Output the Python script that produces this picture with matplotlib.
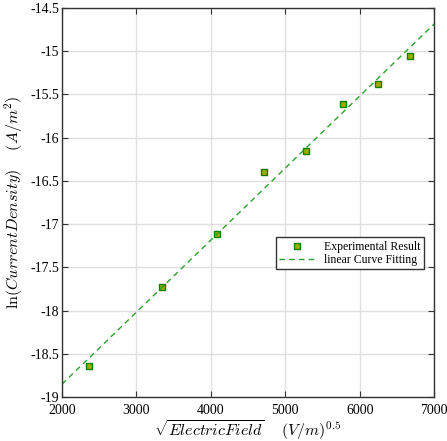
import numpy as np
import matplotlib.pyplot as plt

plt.rcParams['font.family'] = ['Liberation Serif', 'DejaVu Serif']
plt.rcParams['mathtext.fontset'] = 'cm'

# sqrt(E) in (V/m)^0.5 and ln(J) in ln(A/m^2)
sqrt_field = [2359, 3344, 4083, 4715, 5280, 5777, 6251, 6673]
ln_current = [-18.64, -17.73, -17.12, -16.40, -16.155, -15.61, -15.38, -15.05]

slope, intercept = np.polyfit(sqrt_field, ln_current, 1)
x_fit = np.array([2000, 7000])
y_fit = slope * x_fit + intercept

fig = plt.figure(figsize=(4.47, 4.41), dpi=100)
ax = fig.add_axes([0.1387, 0.0998, 0.8323, 0.8821])

ax.plot(sqrt_field, ln_current, 's', markersize=4, markerfacecolor='#a8a800',
        markeredgecolor='#008000', markeredgewidth=1, label='Experimental Result')
ax.plot(x_fit, y_fit, '--', color='#2ca02c', linewidth=1, dashes=(4, 3),
        label='linear Curve Fitting')

ax.set_xlim(2000, 7000)
ax.set_ylim(-19, -14.5)
ax.set_xticks(np.arange(2000, 7001, 1000))
ax.set_yticks(np.arange(-19, -14.49, 0.5))
ax.set_yticklabels(['%g' % v for v in np.arange(-19, -14.49, 0.5)])
ax.grid(True, color='#e0e0e0', linewidth=1)
ax.set_axisbelow(True)
ax.tick_params(direction='in', top=True, right=True, labelsize=10, length=4,
               color='#333333', pad=2)
ax.tick_params(axis='x', pad=5)
for s in ax.spines.values():
    s.set_color('#333333')
    s.set_linewidth(1)

ax.set_xlabel(r'$\sqrt{Electric Field}\quad\ (V/m)^{0.5}$', fontsize=11.5, labelpad=1)
ax.set_ylabel(r'$\ln(Current Density)\quad\ (A/m^2)$', fontsize=11.5, labelpad=4)

leg = ax.legend(loc='upper left', bbox_to_anchor=(0.575, 0.411), fontsize=8.5,
                fancybox=False, edgecolor='#333333', framealpha=1,
                borderpad=0.3, handlelength=3, labelspacing=0.1, borderaxespad=0)
leg.get_frame().set_linewidth(1)

fig.savefig('out.png', dpi=100)
